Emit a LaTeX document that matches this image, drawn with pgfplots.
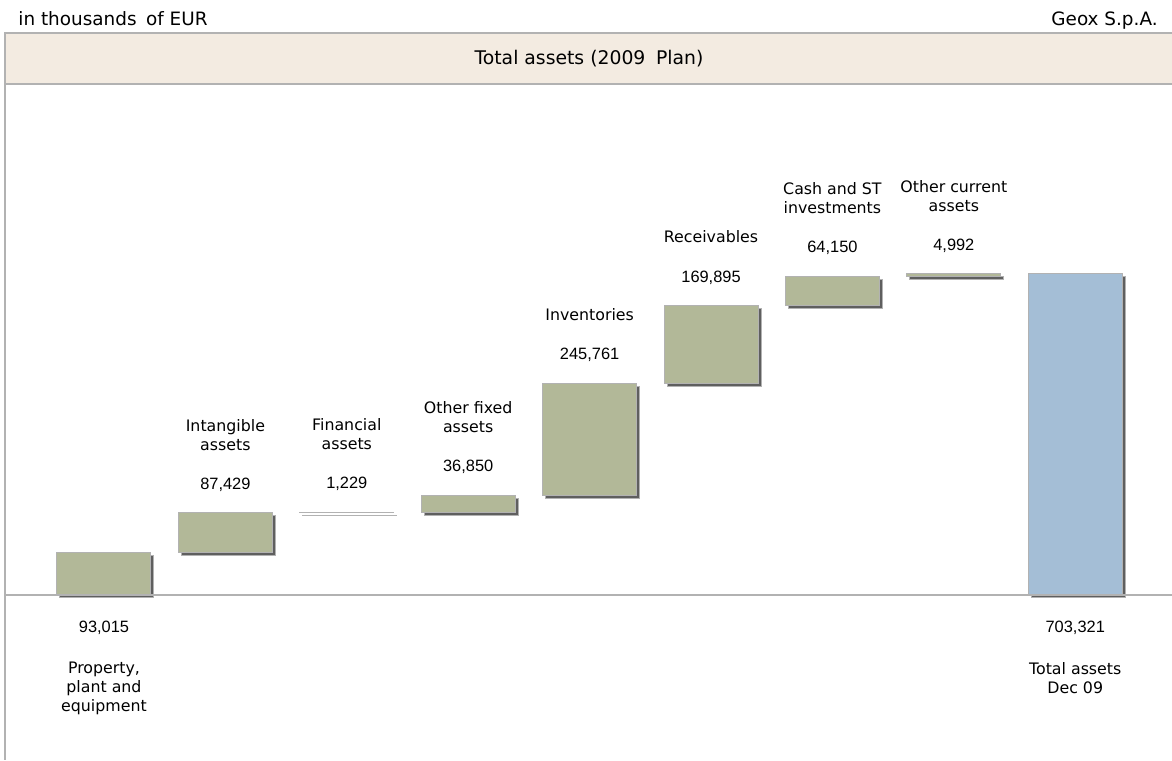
\documentclass[border=0pt]{standalone}
\usepackage{pgfplots}
\pgfplotsset{compat=1.18}
\usepackage{pgfplotstable}
\usepackage{fontspec}
\setmainfont{Liberation Sans}
\newfontfamily\tah{DejaVu Sans}
\usetikzlibrary{shadows}
\definecolor{barG}{RGB}{178,184,152}
\definecolor{barB}{RGB}{164,190,214}
\definecolor{band}{RGB}{243,235,225}
\definecolor{frame}{RGB}{178,178,178}
\definecolor{shad}{RGB}{95,95,95}

\pgfplotstableread{
x base h tot
0 0 93015 0
1 93015 87429 0
2 180444 1229 0
3 181673 36850 0
4 218523 245761 0
5 464284 169895 0
6 634179 64150 0
7 698329 4992 0
8 0 0 703321
}\waterfall

\newcommand{\namefont}{\tah\fontsize{7.9}{9.4}\selectfont}
\newcommand{\valfont}{\fontsize{8.2}{9}\selectfont}

\begin{document}
\begin{tikzpicture}
\fill[band] (2.5pt,338pt) rectangle (586pt,363.5pt);
\draw[frame, line width=0.8pt] (586pt,363.5pt) -- (2.5pt,363.5pt) -- (2.5pt,0pt);
\draw[frame, line width=0.8pt] (2.5pt,338pt) -- (586pt,338pt);
\node[anchor=center, font=\tah\fontsize{9.4}{11}\selectfont] at (294.5pt,350.5pt) {Total assets (2009\hspace{0.25em} Plan)};
\node[anchor=base west, inner sep=0pt, font=\tah\fontsize{9.2}{11}\selectfont] at (9pt,367pt) {in thousands\hspace{0.2em} of EUR};
\node[anchor=base east, inner sep=0pt, font=\tah\fontsize{9.2}{11}\selectfont] at (579pt,367pt) {Geox S.p.A.};
\begin{axis}[
  at={(3pt,0pt)}, anchor=south west,
  scale only axis, width=583pt, height=338pt,
  xmin=-0.807, xmax=8.797, ymin=-361520, ymax=1119616,
  axis lines=none, xtick=\empty, ytick=\empty,
  ybar stacked, bar width=0.774,
  clip=false,
]
\draw[frame, line width=0.6pt] (axis cs:-0.807,0) -- (axis cs:8.797,0);
\addplot[draw=none, fill=none] table[x=x,y=base]{\waterfall};
\addplot[fill=barG, draw=frame, line width=0.5pt,
  drop shadow={shadow xshift=1.5pt, shadow yshift=-1.5pt, fill=shad, opacity=1}]
  table[x=x,y=h]{\waterfall};
\addplot[fill=barB, draw=frame, line width=0.5pt,
  drop shadow={shadow xshift=1.5pt, shadow yshift=-1.5pt, fill=shad, opacity=1}]
  table[x=x,y=tot]{\waterfall};

% labels below baseline
\node[anchor=base, font=\valfont] at (axis cs:0,0) [yshift=-19pt] {93,015};
\node[anchor=north, align=center, inner sep=0pt, font=\namefont] at (axis cs:0,0) [yshift=-33.5pt] {Property,\\plant and\\equipment};
\node[anchor=base, font=\valfont] at (axis cs:8,0) [yshift=-19pt] {703,321};
\node[anchor=north, align=center, inner sep=0pt, font=\namefont] at (axis cs:8,0) [yshift=-33.5pt] {Total assets\\Dec 09};

% labels above bars
\node[anchor=base, font=\valfont] at (axis cs:1,180444) [yshift=11.75pt] {87,429};
\node[anchor=south, align=center, inner sep=0pt, font=\namefont] at (axis cs:1,180444) [yshift=31pt] {Intangible\\assets};
\node[anchor=base, font=\valfont] at (axis cs:2,181673) [yshift=11.75pt] {1,229};
\node[anchor=south, align=center, inner sep=0pt, font=\namefont] at (axis cs:2,181673) [yshift=31pt] {Financial\\assets};
\node[anchor=base, font=\valfont] at (axis cs:3,218523) [yshift=11.75pt] {36,850};
\node[anchor=south, align=center, inner sep=0pt, font=\namefont] at (axis cs:3,218523) [yshift=31pt] {Other fixed\\assets};
\node[anchor=base, font=\valfont] at (axis cs:4,464284) [yshift=11.75pt] {245,761};
\node[anchor=south, align=center, inner sep=0pt, font=\namefont] at (axis cs:4,464284) [yshift=31pt] {Inventories};
\node[anchor=base, font=\valfont] at (axis cs:5,634179) [yshift=11.75pt] {169,895};
\node[anchor=south, align=center, inner sep=0pt, font=\namefont] at (axis cs:5,634179) [yshift=31pt] {Receivables};
\node[anchor=base, font=\valfont] at (axis cs:6,698329) [yshift=11.75pt] {64,150};
\node[anchor=south, align=center, inner sep=0pt, font=\namefont] at (axis cs:6,698329) [yshift=31pt] {Cash and ST\\investments};
\node[anchor=base, font=\valfont] at (axis cs:7,703321) [yshift=11.75pt] {4,992};
\node[anchor=south, align=center, inner sep=0pt, font=\namefont] at (axis cs:7,703321) [yshift=31pt] {Other current\\assets};
\end{axis}
\pgfresetboundingbox
\path[use as bounding box] (0,0) rectangle (586pt,380pt);
\end{tikzpicture}
\end{document}
